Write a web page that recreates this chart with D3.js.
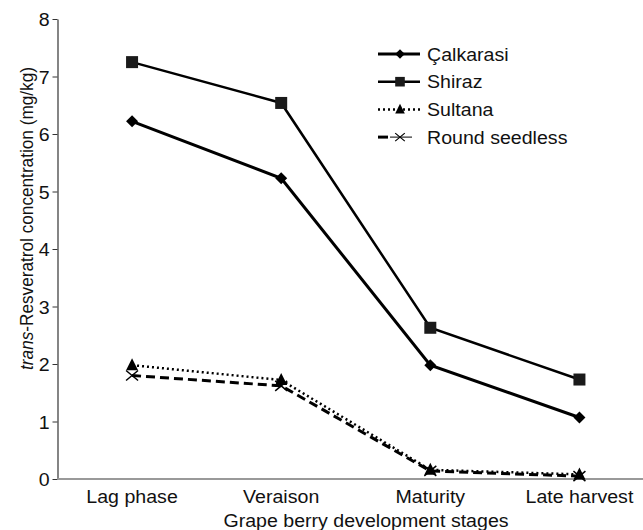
<!DOCTYPE html>
<html>
<head>
<meta charset="utf-8">
<script src="https://cdn.jsdelivr.net/npm/d3@7"></script>
<style>
  body { margin: 0; background: #fff; }
  svg { font-family: "Liberation Sans", Arial, sans-serif; }
</style>
</head>
<body>
<svg id="chart" width="643" height="530"></svg>
<script>
// data
const stages = ["Lag phase", "Veraison", "Maturity", "Late harvest"];
const calkarasi = [6.22, 5.23, 1.98, 1.07];
const shiraz = [7.25, 6.54, 2.63, 1.73];
const sultana = [1.98, 1.72, 0.16, 0.08];
const roundSeedless = [1.80, 1.62, 0.14, 0.05];
const yTicks = [0, 1, 2, 3, 4, 5, 6, 7, 8];

const series = [
  { name: "Çalkarasi", values: calkarasi, dash: null, width: 3, marker: "diamond" },
  { name: "Shiraz", values: shiraz, dash: null, width: 2.5, marker: "square" },
  { name: "Sultana", values: sultana, dash: "2,3", width: 2.5, marker: "triangle" },
  { name: "Round seedless", values: roundSeedless, dash: "9,5", width: 3, marker: "cross" }
];

const svg = d3.select("#chart");
const plotLeft = 57.5, plotBottom = 479, plotTop = 19;
const fs = 17.5, sx = 1.12;   // the source figure is a little wider than tall

const x = d3.scalePoint().domain(stages).range([plotLeft, 654]).padding(0.5);
const y = d3.scaleLinear().domain([0, 8]).range([plotBottom, plotTop]);

// y axis
const yAxis = d3.axisLeft(y).tickValues(yTicks).tickSize(5).tickSizeOuter(0);
const ya = svg.append("g").attr("transform", `translate(${plotLeft},0)`).call(yAxis);
ya.select(".domain").attr("stroke", "#333").attr("stroke-width", 1.2);
ya.selectAll(".tick line").attr("stroke", "#333");
ya.selectAll(".tick text").attr("font-size", fs).attr("fill", "#111")
  .attr("x", -7).attr("dy", "0.38em").attr("transform", `scale(${sx},1)`);

// x axis line
svg.append("line")
  .attr("x1", plotLeft).attr("x2", 643).attr("y1", plotBottom).attr("y2", plotBottom)
  .attr("stroke", "#999").attr("stroke-width", 2);

svg.append("g").selectAll("text").data(stages).join("text")
  .attr("transform", d => `translate(${x(d)},${plotBottom + 24}) scale(${sx},1)`)
  .attr("text-anchor", "middle").attr("font-size", fs).attr("fill", "#111")
  .text(d => d);

svg.append("text")
  .attr("transform", `translate(366,527) scale(${sx},1)`).attr("text-anchor", "middle")
  .attr("font-size", fs).attr("fill", "#111")
  .text("Grape berry development stages");

const yl = svg.append("text")
  .attr("transform", `translate(33,218.5) scale(${sx},1) rotate(-90)`)
  .attr("text-anchor", "middle").attr("font-size", 17.2).attr("fill", "#111");
yl.append("tspan").attr("font-style", "italic").text("trans");
yl.append("tspan").text("-Resveratrol concentration (mg/kg)");

// markers
function drawMarker(sel, type) {
  if (type === "diamond") {
    sel.append("path").attr("d", "M0,-6L6,0L0,6L-6,0Z").attr("fill", "#000");
  } else if (type === "square") {
    sel.append("rect").attr("x", -6).attr("y", -6).attr("width", 12).attr("height", 12)
      .attr("fill", "#1a1a1a");
  } else if (type === "triangle") {
    sel.append("path").attr("d", "M0,-7L6,5L-6,5Z").attr("fill", "#000");
  } else {
    sel.append("path").attr("d", "M-6,-5L6,5M-6,5L6,-5").attr("stroke", "#000")
      .attr("stroke-width", 1.5).attr("fill", "none");
  }
}

const line = d3.line().x((d, i) => x(stages[i])).y(d => y(d));

series.forEach(s => {
  svg.append("path").datum(s.values)
    .attr("d", line).attr("fill", "none").attr("stroke", "#000")
    .attr("stroke-width", s.width)
    .attr("stroke-dasharray", s.dash);
  s.values.forEach((v, i) => {
    const g = svg.append("g").attr("transform", `translate(${x(stages[i])},${y(v)})`);
    drawMarker(g, s.marker);
  });
});

// legend
const leg = svg.append("g");
series.forEach((s, i) => {
  const ly = 54 + i * 27.7;
  if (s.marker === "cross") {
    leg.append("line").attr("x1", 378).attr("x2", 388).attr("y1", ly).attr("y2", ly)
      .attr("stroke", "#000").attr("stroke-width", 3);
    leg.append("line").attr("x1", 390).attr("x2", 412).attr("y1", ly).attr("y2", ly)
      .attr("stroke", "#000").attr("stroke-width", 1);
  } else {
    leg.append("line").attr("x1", 378).attr("x2", 420).attr("y1", ly).attr("y2", ly)
      .attr("stroke", "#000").attr("stroke-width", s.width)
      .attr("stroke-dasharray", s.dash);
  }
  const g = leg.append("g").attr("transform", `translate(400,${ly}) scale(0.8)`);
  drawMarker(g, s.marker);
  leg.append("text").attr("transform", `translate(427,${ly + 6.5}) scale(${sx},1)`)
    .attr("font-size", fs).attr("fill", "#111").text(s.name);
});
</script>
</body>
</html>
